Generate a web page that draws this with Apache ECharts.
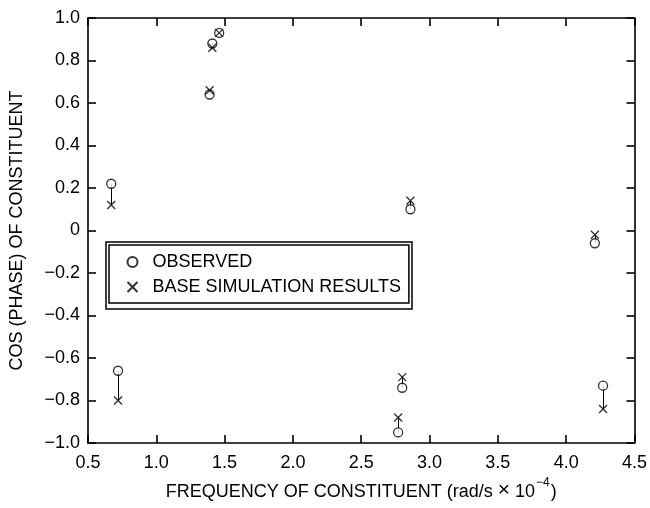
<!DOCTYPE html>
<html>
<head>
<meta charset="utf-8">
<script src="https://cdn.jsdelivr.net/npm/echarts@6/dist/echarts.min.js"></script>
<style>
  html, body { margin: 0; padding: 0; background: #fff; }
  #chart { width: 650px; height: 508px; }
</style>
</head>
<body>
<div id="chart"></div>
<script>
// frequency of each constituent (rad/s x 1e-4)
var freq = [0.67, 0.72, 1.39, 1.41, 1.46, 2.77, 2.80, 2.86, 4.21, 4.27];
// cos(phase), observed
var observed = [0.22, -0.66, 0.64, 0.88, 0.93, -0.95, -0.74, 0.10, -0.06, -0.73];
// cos(phase), base simulation
var simulated = [0.12, -0.80, 0.66, 0.86, 0.93, -0.88, -0.69, 0.14, -0.02, -0.84];

var xTicks = { min: 0.5, max: 4.5, step: 0.5 };
var yTicks = { min: -1, max: 1, step: 0.2 };

var FONT = 'Liberation Sans';
var crossPath = 'path://M0,0L10,10M10,0L0,10';

var obsData = freq.map(function (f, i) { return [f, observed[i]]; });
var simData = freq.map(function (f, i) { return [f, simulated[i]]; });
var linkData = freq.map(function (f, i) {
    return { coords: [[f, observed[i]], [f, simulated[i]]] };
});

function yFmt(v) {
    if (Math.abs(v) < 1e-9) return '0';
    return v.toFixed(1).replace('-', '\u2212');
}

var axisLine = { show: true, onZero: false, lineStyle: { color: '#000', width: 1.6 } };
var axisTick = { show: true, inside: true, length: 8, lineStyle: { color: '#000', width: 1.6 } };

var chart = echarts.init(document.getElementById('chart'));

var option = {
    animation: false,
    backgroundColor: '#fff',
    grid: { left: 88, right: 12, top: 18, bottom: 65 },
    legend: {
        orient: 'vertical',
        left: 109,
        top: 245,
        padding: [8, 8, 7, 16],
        itemGap: 7,
        itemWidth: 10,
        itemHeight: 10,
        borderColor: '#000',
        borderWidth: 1.5,
        textStyle: { fontFamily: FONT, fontSize: 18, color: '#000', padding: [0, 0, 0, 10] },
        data: ['OBSERVED', 'BASE SIMULATION RESULTS']
    },
    graphic: [{
        type: 'rect',
        shape: { x: 106, y: 242, width: 306, height: 67 },
        style: { fill: 'none', stroke: '#000', lineWidth: 1.5 },
        silent: true
    }],
    xAxis: [{
        type: 'value',
        position: 'bottom',
        min: xTicks.min, max: xTicks.max, interval: xTicks.step,
        axisLine: axisLine, axisTick: axisTick,
        splitLine: { show: false },
        axisLabel: {
            margin: 11,
            fontFamily: FONT, fontSize: 18, color: '#000',
            formatter: function (v) { return v.toFixed(1); }
        },
        name: '{a|FREQUENCY OF CONSTITUENT (rad/s }{x|\u00d7}{a| 10}{s|\u22124}{a|)}',
        nameLocation: 'middle',
        nameGap: 32,
        nameTextStyle: {
            rich: {
                a: { fontFamily: FONT, fontSize: 18, color: '#000', lineHeight: 24, verticalAlign: 'bottom' },
                x: { fontFamily: FONT, fontSize: 21, color: '#000', lineHeight: 24, verticalAlign: 'bottom' },
                s: { fontFamily: FONT, fontSize: 12, color: '#000', lineHeight: 12, verticalAlign: 'top', padding: [0, 1, 0, 1] }
            }
        }
    }, {
        type: 'value',
        position: 'top',
        min: xTicks.min, max: xTicks.max, interval: xTicks.step,
        axisLine: axisLine, axisTick: axisTick,
        splitLine: { show: false },
        axisLabel: { show: false }
    }],
    yAxis: [{
        type: 'value',
        position: 'left',
        min: yTicks.min, max: yTicks.max, interval: yTicks.step,
        axisLine: axisLine, axisTick: axisTick,
        splitLine: { show: false },
        axisLabel: {
            margin: 8,
            fontFamily: FONT, fontSize: 18, color: '#000',
            formatter: yFmt
        },
        name: 'COS (PHASE) OF CONSTITUENT',
        nameLocation: 'middle',
        nameRotate: 90,
        nameGap: 62,
        nameTextStyle: { fontFamily: FONT, fontSize: 18, color: '#000' }
    }, {
        type: 'value',
        position: 'right',
        min: yTicks.min, max: yTicks.max, interval: yTicks.step,
        axisLine: axisLine, axisTick: axisTick,
        splitLine: { show: false },
        axisLabel: { show: false }
    }],
    series: [{
        type: 'lines',
        coordinateSystem: 'cartesian2d',
        xAxisIndex: 0, yAxisIndex: 0,
        silent: true,
        z: 1,
        lineStyle: { color: '#000', width: 1, opacity: 1 },
        data: linkData
    }, {
        name: 'OBSERVED',
        type: 'scatter',
        xAxisIndex: 0, yAxisIndex: 0,
        symbol: 'circle',
        symbolSize: 9,
        z: 2,
        itemStyle: { color: '#fff', borderColor: '#000', borderWidth: 1.3 },
        data: obsData
    }, {
        name: 'BASE SIMULATION RESULTS',
        type: 'scatter',
        xAxisIndex: 0, yAxisIndex: 0,
        symbol: crossPath,
        symbolSize: 8,
        z: 3,
        itemStyle: { color: 'none', borderColor: '#000', borderWidth: 1.4 },
        data: simData
    }]
};

chart.setOption(option);
</script>
</body>
</html>
